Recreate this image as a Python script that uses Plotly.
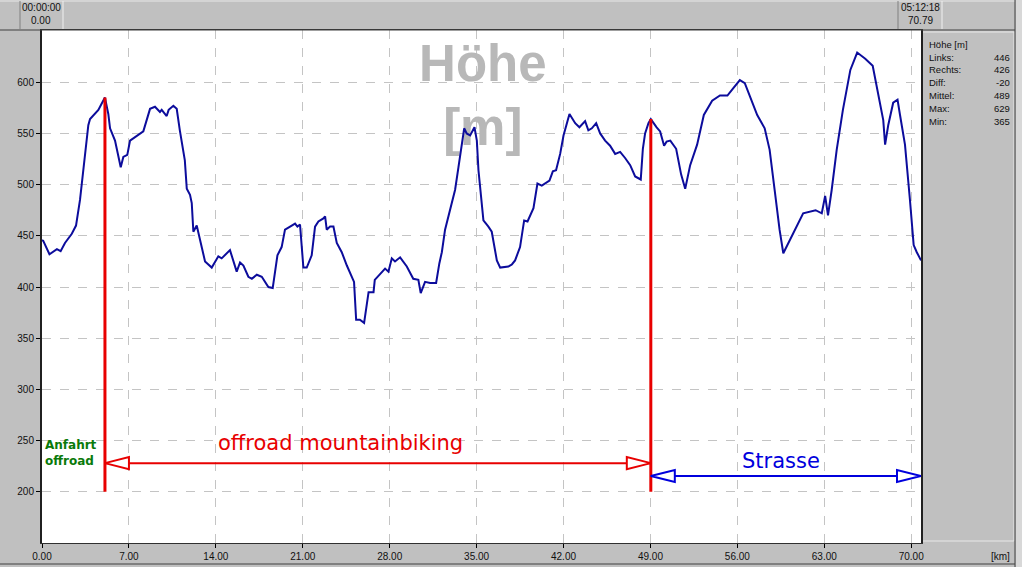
import plotly.graph_objects as go

# ---------------- data ----------------
km = [0.0, 0.1, 0.6, 1.2, 1.5, 1.85, 2.4, 2.74, 3.06, 3.33, 3.73, 3.87, 4.54, 4.8, 5.07,
      5.34, 5.48, 5.88, 6.34, 6.55, 6.87, 7.09, 7.6, 8.16, 8.7, 9.1, 9.5, 9.64, 10.04, 10.2,
      10.58, 10.85, 11.1, 11.5, 11.66, 11.92, 12.06, 12.19, 12.46, 12.73, 13.13, 13.67, 14.2,
      14.47, 15.14, 15.68, 15.95, 16.22, 16.62, 16.9, 17.3, 17.7, 18.23, 18.58, 18.96, 19.3,
      19.57, 19.98, 20.38, 20.57, 20.78, 21.05, 21.32, 21.72, 21.99, 22.26, 22.66, 22.8, 22.93,
      23.2, 23.47, 23.74, 24.14, 24.55, 24.95, 25.13, 25.3, 25.6, 25.94, 26.3, 26.7, 26.8,
      27.63, 27.9, 28.17, 28.43, 28.84, 29.38, 29.9, 30.31, 30.5, 30.85, 31.25, 31.74, 32.0,
      32.2, 32.46, 32.87, 33.27, 33.54, 33.81, 34.0, 34.2, 34.48, 34.83, 35.02, 35.15, 35.42,
      35.55, 35.95, 36.22, 36.63, 36.9, 37.56, 37.84, 38.1, 38.5, 38.83, 39.1, 39.58, 39.9,
      40.25, 40.87, 41.14, 41.4, 41.73, 42.0, 42.48, 42.94, 43.28, 43.74, 44.0, 44.28, 44.63,
      44.95, 45.35, 45.75, 46.16, 46.56, 46.96, 47.37, 47.77, 48.22, 48.39, 48.57, 48.84,
      49.03, 49.5, 49.78, 50.1, 50.3, 50.6, 51.07, 51.47, 51.8, 52.2, 52.76, 53.3, 53.97, 54.6,
      55.2, 55.66, 56.2, 56.6, 57.0, 57.6, 58.2, 58.6, 59.0, 59.4, 59.7, 60.25, 60.8, 61.3,
      62.3, 62.8, 63.07, 63.3, 63.6, 64.0, 64.5, 65.1, 65.65, 66.3, 66.9, 67.3, 67.75, 67.9,
      68.15, 68.55, 68.9, 69.1, 69.5, 69.9, 70.2, 70.45, 70.6, 70.79]
hoehe = [446, 445, 432, 437, 435, 443, 452, 460, 485, 514, 558, 564, 573, 579, 585,
         569, 555, 543, 517, 527, 529, 543, 547, 552, 574, 576, 571, 573, 567, 573,
         577, 574, 553, 524, 496, 490, 482, 454, 460, 446, 425, 419, 430,
         428, 436, 415, 424, 421, 410, 408, 412, 410, 400, 399, 431, 439,
         456, 459, 462, 459, 461, 419, 419, 431, 459, 464, 467, 469, 456,
         459, 459, 443, 434, 421, 410, 405, 368, 368, 365, 395, 395, 407,
         418, 415, 428, 425, 429, 420, 408, 407, 394, 405, 404, 404, 423,
         434, 456, 475, 495, 517, 540, 555, 550, 548, 556, 543, 514, 485,
         465, 459, 454, 426, 419, 420, 422, 426, 439, 465, 464, 477, 501,
         499, 504, 513, 514, 530, 548, 569, 560, 556, 562, 553, 555, 560,
         550, 543, 538, 530, 532, 526, 519, 508, 505, 535, 550, 560,
         564, 556, 552, 538, 542, 543, 535, 510, 496, 519, 539, 568, 582, 587,
         587, 594, 602, 599, 587, 568, 555, 534, 495, 456, 433, 446, 460, 472,
         475, 472, 489, 470, 495, 534, 573, 612, 629, 623, 616, 592, 563, 539,
         558, 580, 583, 568, 539, 485, 441, 434, 430, 426]

x_ticks = [0, 7, 14, 21, 28, 35, 42, 49, 56, 63, 70]
y_ticks = [200, 250, 300, 350, 400, 450, 500, 550, 600]

section_km = [5.07, 49.03, 70.79]          # Anfahrt | offroad | Strasse boundaries
section_bottom = 200
arrow_offroad_y = 228
arrow_strasse_y = 215.5

stat_labels = ["Links:", "Rechts:", "Diff:", "Mittel:", "Max:", "Min:"]
stat_values = ["446", "426", "-20", "489", "629", "365"]
time_start, dist_start = "00:00:00", "0.00"
time_end, dist_end = "05:12:18", "70.79"

# ---------------- helpers (pixel -> paper) ----------------
W, H = 1022, 567
L, R, T, B = 42, 101, 30, 24
PW, PH = W - L - R, H - T - B


def PX(px):
    return (px - L) / PW


def PY(py):
    return (H - B - py) / PH


FONT = "Liberation Sans"
RED = "#e80000"
BLUE = "#0000dd"
LINE = "#0c0c9c"

fig = go.Figure()

# watermark text (behind the profile)
fig.add_trace(go.Scatter(x=[35.5, 35.5], y=[614, 551.5], mode="text",
                         text=["<b>Höhe</b>", "<b>[m]</b>"],
                         textfont=dict(family=FONT, size=51, color="#b8b8b8"),
                         hoverinfo="skip", showlegend=False, cliponaxis=False))

# elevation profile
fig.add_trace(go.Scatter(x=km, y=hoehe, mode="lines",
                         line=dict(color=LINE, width=2), hoverinfo="x+y",
                         showlegend=False))

# red section markers
for sx in section_km[:2]:
    top = hoehe[km.index(sx)]
    fig.add_trace(go.Scatter(x=[sx, sx], y=[section_bottom, top], mode="lines",
                             line=dict(color=RED, width=3), hoverinfo="skip",
                             showlegend=False))

# arrows
fig.add_trace(go.Scatter(x=[section_km[0], section_km[1]],
                         y=[arrow_offroad_y, arrow_offroad_y], mode="lines",
                         line=dict(color=RED, width=2), hoverinfo="skip", showlegend=False))
fig.add_trace(go.Scatter(x=[section_km[1], section_km[2]],
                         y=[arrow_strasse_y, arrow_strasse_y], mode="lines",
                         line=dict(color=BLUE, width=2), hoverinfo="skip", showlegend=False))

shapes = []


def head(xv, yv, direction, color):
    d = 1 if direction == "left" else -1
    shapes.append(dict(type="path", xref="x", yref="y", xsizemode="pixel", ysizemode="pixel",
                       xanchor=xv, yanchor=yv,
                       path=f"M0,0 L{24 * d},6 L{24 * d},-6 Z",
                       fillcolor="white", line=dict(color=color, width=2), layer="above"))


head(section_km[0], arrow_offroad_y, "left", RED)
head(section_km[1], arrow_offroad_y, "right", RED)
head(section_km[1], arrow_strasse_y, "left", BLUE)
head(section_km[2], arrow_strasse_y, "right", BLUE)

# ---- chrome: top bar boxes, right panel, borders ----
GRAY_D = "#808080"
shapes += [
    # top bar bottom border
    dict(type="line", xref="paper", yref="paper", x0=PX(0), x1=PX(1015), y0=PY(30), y1=PY(30),
         line=dict(color="#404040", width=1)),
    dict(type="line", xref="paper", yref="paper", x0=PX(0), x1=PX(1015), y0=PY(1), y1=PY(1),
         line=dict(color="#e8e8e8", width=1)),
    # box 1
    dict(type="line", xref="paper", yref="paper", x0=PX(20), x1=PX(20), y0=PY(1), y1=PY(29),
         line=dict(color=GRAY_D, width=1)),
    dict(type="line", xref="paper", yref="paper", x0=PX(63), x1=PX(63), y0=PY(1), y1=PY(29),
         line=dict(color="#f0f0f0", width=1)),
    # box 2
    dict(type="line", xref="paper", yref="paper", x0=PX(898), x1=PX(898), y0=PY(1), y1=PY(29),
         line=dict(color=GRAY_D, width=1)),
    dict(type="line", xref="paper", yref="paper", x0=PX(942), x1=PX(942), y0=PY(1), y1=PY(29),
         line=dict(color="#f0f0f0", width=1)),
    # right panel
    dict(type="rect", xref="paper", yref="paper", x0=PX(922), x1=PX(1014), y0=PY(541), y1=PY(32),
         fillcolor="#c0c0c0", line=dict(color="#e8e8e8", width=1), layer="below"),
    # far right edge
    dict(type="line", xref="paper", yref="paper", x0=PX(1015), x1=PX(1015), y0=PY(567), y1=PY(0),
         line=dict(color="#404040", width=1)),
    dict(type="rect", xref="paper", yref="paper", x0=PX(1016), x1=PX(1022), y0=PY(567), y1=PY(0),
         fillcolor="#d8d8d8", line=dict(width=0)),
    # bottom bar bottom line
    dict(type="line", xref="paper", yref="paper", x0=PX(0), x1=PX(1015), y0=PY(564), y1=PY(564),
         line=dict(color="#404040", width=1)),
]

annotations = []
# top bar texts
for cx, t1, t2 in [(41, time_start, dist_start), (920, time_end, dist_end)]:
    annotations.append(dict(xref="paper", yref="paper", x=PX(cx), y=PY(8), text=t1,
                            showarrow=False, font=dict(family=FONT, size=10, color="#101010"),
                            xanchor="center", yanchor="middle"))
    annotations.append(dict(xref="paper", yref="paper", x=PX(cx), y=PY(21), text=t2,
                            showarrow=False, font=dict(family=FONT, size=10, color="#101010"),
                            xanchor="center", yanchor="middle"))

# right panel stats
annotations.append(dict(xref="paper", yref="paper", x=PX(927), y=PY(44), text="Höhe [m]",
                        showarrow=False, font=dict(family=FONT, size=9.5, color="#101010"),
                        xanchor="left", yanchor="middle"))
for i, (lab, val) in enumerate(zip(stat_labels, stat_values)):
    yy = PY(57 + i * 12.8)
    annotations.append(dict(xref="paper", yref="paper", x=PX(927), y=yy, text=lab,
                            showarrow=False, font=dict(family=FONT, size=9.5, color="#101010"),
                            xanchor="left", yanchor="middle"))
    annotations.append(dict(xref="paper", yref="paper", x=PX(1012), y=yy, text=val,
                            showarrow=False, font=dict(family=FONT, size=9.5, color="#101010"),
                            xanchor="right", yanchor="middle"))

# [km] label
annotations.append(dict(xref="paper", yref="paper", x=PX(1012), y=PY(556), text="[km]",
                        showarrow=False, font=dict(family=FONT, size=10, color="#101010"),
                        xanchor="right", yanchor="middle"))

# section labels
annotations.append(dict(xref="x", yref="y", x=24.0, y=247.5, text="offroad mountainbiking",
                        showarrow=False, font=dict(family="DejaVu Sans", size=21, color=RED),
                        xanchor="center", yanchor="middle"))
annotations.append(dict(xref="x", yref="y", x=59.5, y=230, text="Strasse",
                        showarrow=False, font=dict(family="DejaVu Sans", size=21, color=BLUE),
                        xanchor="center", yanchor="middle"))
annotations.append(dict(xref="x", yref="y", x=0.12, y=238, text="<b>Anfahrt<br>offroad</b>",
                        showarrow=False, align="left",
                        font=dict(family="DejaVu Sans", size=12, color="#0a7a0a"),
                        xanchor="left", yanchor="middle"))

fig.update_layout(
    width=W, height=H, autosize=False,
    margin=dict(l=L, r=R, t=T, b=B, pad=0, autoexpand=False),
    paper_bgcolor="#c0c0c0", plot_bgcolor="white",
    shapes=shapes, annotations=annotations,
    showlegend=False,
    xaxis=dict(range=[0, 70.79], tickvals=x_ticks, tickformat=".2f", automargin=False,
               showgrid=True, gridcolor="#c4c4c4", griddash="dash", gridwidth=1,
               zeroline=False, ticks="outside", ticklen=4, tickcolor="black",
               showline=True, linecolor="#303030", linewidth=1, mirror=True,
               tickfont=dict(family=FONT, size=10, color="#101010"), fixedrange=True),
    yaxis=dict(range=[150, 651], tickvals=y_ticks, automargin=False,
               showgrid=True, gridcolor="#c4c4c4", griddash="dash", gridwidth=1,
               zeroline=False, ticks="outside", ticklen=4, tickcolor="black",
               showline=True, linecolor="#202020", linewidth=2, mirror=True,
               tickfont=dict(family=FONT, size=10, color="#101010"), fixedrange=True),
)

fig.write_html("out.html", config={"displayModeBar": False},
               post_script="document.body.style.margin='0';document.body.style.overflow='hidden';")
